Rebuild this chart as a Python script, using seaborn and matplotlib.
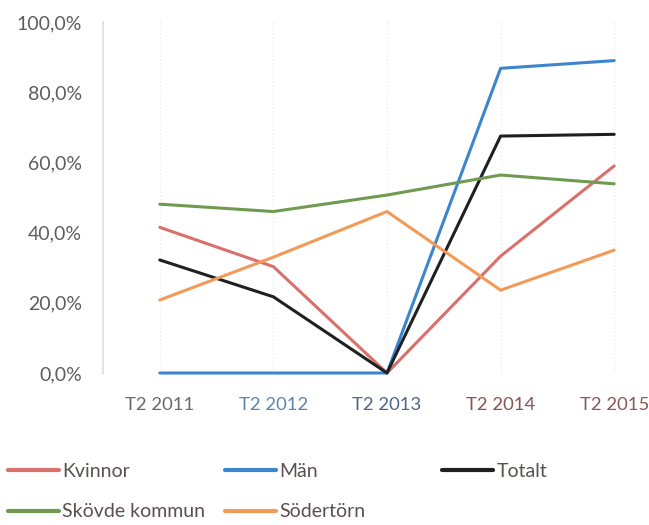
import pandas as pd
import matplotlib.pyplot as plt
import seaborn as sns
from matplotlib.lines import Line2D
from matplotlib.ticker import FuncFormatter

periods = ["T2 2011", "T2 2012", "T2 2013", "T2 2014", "T2 2015"]
kvinnor = [41.5, 30.3, 0.0, 33.3, 59.0]
man = [0.0, 0.0, 0.0, 86.8, 89.0]
totalt = [32.2, 21.7, 0.0, 67.5, 68.0]
skovde = [48.1, 46.0, 50.7, 56.4, 53.9]
sodertorn = [20.8, 33.0, 46.0, 23.6, 35.0]

series = ["Kvinnor", "Män", "Totalt", "Skövde kommun", "Södertörn"]
colors = {"Kvinnor": "#d9706c", "Män": "#3b86cf", "Totalt": "#1e2022",
          "Skövde kommun": "#6f9a4f", "Södertörn": "#f39a58"}
tick_colors = ["#6a6a6a", "#5d84ad", "#4e6585", "#8a5252", "#8a5858"]

df = pd.DataFrame({"period": periods * 5,
                   "serie": [s for s in series for _ in periods],
                   "value": kvinnor + man + totalt + skovde + sodertorn})

sns.set_style("white")
plt.rcParams['font.family'] = ['Lato', 'DejaVu Sans']

fig = plt.figure(figsize=(6.49, 5.25), dpi=100)
ax = fig.add_axes([103/649, 152/525, 568/649, 351/525])

sns.lineplot(data=df, x="period", y="value", hue="serie", palette=colors,
             hue_order=series, sort=False, linewidth=2.2, ax=ax, legend=False)
for ln in ax.get_lines():
    ln.set_clip_on(False)

ax.set_xlim(-0.5, 4.5)
ax.set_ylim(0, 100)
ax.set_yticks([0, 20, 40, 60, 80, 100])
ax.yaxis.set_major_formatter(FuncFormatter(lambda v, p: f"{v:.1f}%".replace(".", ",")))
ax.set_xlabel("")
ax.set_ylabel("")
ax.tick_params(axis="both", length=0, labelcolor="#5e5e5e")
ax.tick_params(axis="y", pad=15, labelsize=14)
ax.tick_params(axis="x", pad=17, labelsize=13.3)
for lab, c in zip(ax.get_xticklabels(), tick_colors):
    lab.set_color(c)

for s in ["top", "right", "bottom"]:
    ax.spines[s].set_visible(False)
ax.spines["left"].set_color("#e3e3e3")
ax.spines["left"].set_linewidth(1.5)
ax.grid(axis="x", color="#ececec", linestyle=":", linewidth=1)
ax.set_axisbelow(True)

def handles(names):
    return [Line2D([0], [0], color=colors[n], lw=3) for n in names]

for names, xpx in [(["Kvinnor", "Skövde kommun"], 8), (["Män", "Södertörn"], 225), (["Totalt"], 442)]:
    fig.legend(handles(names), names, loc="upper left", bbox_to_anchor=(xpx/649, 1 - 463/525),
               frameon=False, fontsize=14, handlelength=2.6, handletextpad=0.2,
               borderpad=0, borderaxespad=0, labelspacing=1.2, labelcolor="#5a5050")

fig.savefig("out.png", dpi=100)
